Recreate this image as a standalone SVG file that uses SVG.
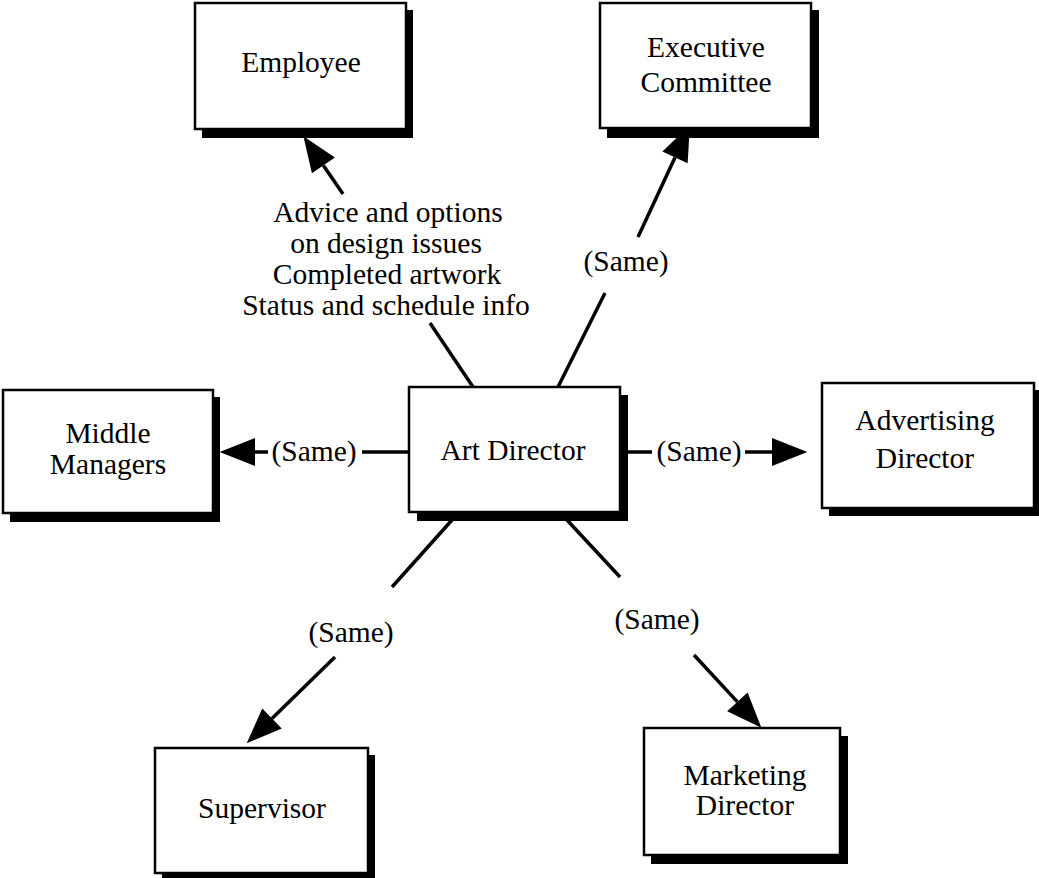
<svg xmlns="http://www.w3.org/2000/svg" width="1039" height="878" viewBox="0 0 1039 878">
<defs>
<style>
.shadow{fill:#000}
.box{fill:#fff;stroke:#000;stroke-width:2.5}
.t{font-family:"Liberation Serif","Times New Roman",serif;font-size:29.5px;fill:#000;text-anchor:middle}
.c{fill:none;stroke:#000;stroke-width:3.5}
</style>
<marker id="ah" markerUnits="userSpaceOnUse" markerWidth="40" markerHeight="30" viewBox="0 -14 34 28" refX="0" refY="0" orient="auto" overflow="visible">
<path d="M0,-13 L33,0 L0,13 Z" fill="#000"/>
</marker>
</defs>
<rect width="1039" height="878" fill="#fff"/>

<g id="connectors">
<path class="c" d="M473,387 L430,323"/>
<path class="c" d="M343,194 L323.4,165.4" marker-end="url(#ah)"/>
<path class="c" d="M558,387 L605,293"/>
<path class="c" d="M638,237 L675,157.4" marker-end="url(#ah)"/>
<path class="c" d="M410,452 L362,452"/>
<path class="c" d="M268,452 L255,452" marker-end="url(#ah)"/>
<path class="c" d="M628,452 L652,452"/>
<path class="c" d="M745,452 L772,452" marker-end="url(#ah)"/>
<path class="c" d="M452,520 L392,587"/>
<path class="c" d="M335,657 L272,718.5" marker-end="url(#ah)"/>
<path class="c" d="M567,520 L620,577"/>
<path class="c" d="M694,655 L737.4,701.9" marker-end="url(#ah)"/>
<text class="t" x="388" y="222">Advice and options</text>
<text class="t" x="386" y="253">on design issues</text>
<text class="t" x="387" y="284">Completed artwork</text>
<text class="t" x="386" y="315">Status and schedule info</text>
<text class="t" x="626" y="271">(Same)</text>
<text class="t" x="314" y="461">(Same)</text>
<text class="t" x="699" y="461">(Same)</text>
<text class="t" x="351" y="642">(Same)</text>
<text class="t" x="657" y="629">(Same)</text>
</g>

<g id="employee">
<rect class="shadow" x="202" y="10" width="211" height="128"/>
<rect class="box" x="195" y="3" width="211" height="126"/>
<text class="t" x="301" y="72">Employee</text>
</g>

<g id="executive-committee">
<rect class="shadow" x="607" y="10" width="212" height="128"/>
<rect class="box" x="600" y="3" width="211" height="125"/>
<text class="t" x="706" y="57">Executive</text>
<text class="t" x="706" y="92">Committee</text>
</g>

<g id="middle-managers">
<rect class="shadow" x="10" y="397" width="210" height="125"/>
<rect class="box" x="3" y="390" width="210" height="123"/>
<text class="t" x="108" y="443">Middle</text>
<text class="t" x="108" y="474">Managers</text>
</g>

<g id="art-director">
<rect class="shadow" x="417" y="395" width="211" height="126"/>
<rect class="box" x="409" y="387" width="211" height="125"/>
<text class="t" x="513" y="460">Art Director</text>
</g>

<g id="advertising-director">
<rect class="shadow" x="829" y="390" width="212" height="126"/>
<rect class="box" x="822" y="383" width="212" height="125"/>
<text class="t" x="925" y="430">Advertising</text>
<text class="t" x="925" y="468">Director</text>
</g>

<g id="supervisor">
<rect class="shadow" x="162" y="755" width="213" height="126"/>
<rect class="box" x="155" y="748" width="213" height="125"/>
<text class="t" x="262" y="818">Supervisor</text>
</g>

<g id="marketing-director">
<rect class="shadow" x="651" y="736" width="197" height="128"/>
<rect class="box" x="644" y="728" width="196" height="127"/>
<text class="t" x="745" y="785">Marketing</text>
<text class="t" x="745" y="815">Director</text>
</g>
</svg>
